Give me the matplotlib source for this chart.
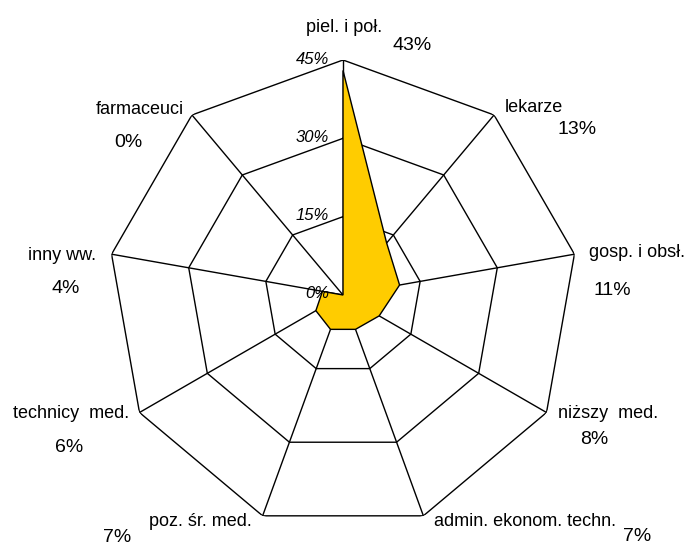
import numpy as np
from matplotlib import pyplot as plt

# staff structure by group (%)
categories = ['piel. i poł.', 'lekarze', 'gosp. i obsł.', 'niższy  med.',
              'admin. ekonom. techn.', 'poz. śr. med.', 'technicy  med.',
              'inny ww.', 'farmaceuci']
values = [43, 13, 11, 8, 7, 7, 6, 4, 0]
rings = [15, 30, 45]
ring_labels = ['0%', '15%', '30%', '45%']

# label offsets from each outer vertex, in pixels (dx, dy), name then value
name_off = [(1, 33), (40, 7), (63, 2), (62, -1), (102, -6),
            (-62, -6), (-68, -1), (-50, -1), (-52, 5)]
val_off = [(69, 15), (83, -15), (38, -36), (48, -27), (214, -21),
           (-146, -22), (-70, -35), (-46, -34), (-64, -28)]

plt.rcParams['font.family'] = ['Liberation Sans', 'DejaVu Sans']

n = len(categories)
theta = np.linspace(0, 2 * np.pi, n, endpoint=False)
theta_c = np.append(theta, theta[0])

fig = plt.figure(figsize=(6.88, 5.46), dpi=100)
ax = fig.add_axes([108 / 688, 16 / 546, 470 / 688, 470 / 546], projection='polar')
ax.set_theta_offset(np.pi / 2)
ax.set_theta_direction(-1)
ax.set_ylim(0, 45)
ax.grid(False)
ax.set_xticks([])
ax.set_yticks([])
ax.spines['polar'].set_visible(False)
ax.patch.set_visible(False)

# polygon web
for r in rings:
    ax.plot(theta_c, [r] * (n + 1), color='black', lw=1.0, zorder=1)
for t in theta:
    ax.plot([t, t], [0, 45], color='black', lw=1.0, zorder=1)

# data area
vals_c = values + values[:1]
ax.fill(theta_c, vals_c, facecolor='#FFCC00', edgecolor='black', lw=1.0, zorder=2)

# radial scale labels on the top axis
for r, lab in zip([0] + rings, ring_labels):
    ax.annotate(lab, xy=(0, r), xytext=(-14, 1), textcoords='offset pixels',
                ha='right', va='center', fontsize=12, style='italic')

for t, name, v, no, vo in zip(theta, categories, values, name_off, val_off):
    ax.annotate(name, xy=(t, 45), xytext=no, textcoords='offset pixels',
                ha='center', va='center', fontsize=13, annotation_clip=False)
    ax.annotate(f'{v}%', xy=(t, 45), xytext=vo, textcoords='offset pixels',
                ha='center', va='center', fontsize=14, annotation_clip=False)

plt.savefig('out.png', dpi=100)
